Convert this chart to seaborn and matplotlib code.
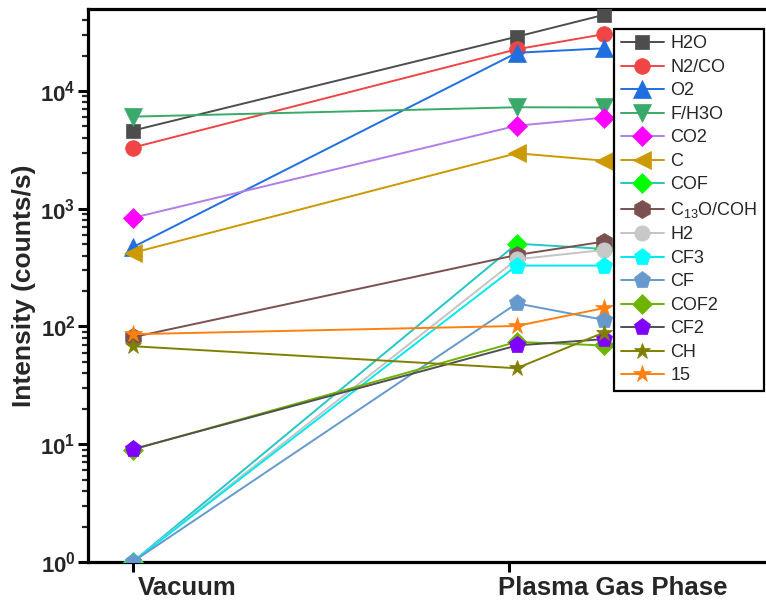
import numpy as np
import pandas as pd
import matplotlib
matplotlib.use("Agg")
import matplotlib.pyplot as plt
import matplotlib.transforms as mtransforms
from matplotlib.lines import Line2D
from matplotlib.ticker import FixedLocator, LogLocator, NullFormatter, FixedFormatter
import seaborn as sns

# ---------------- data ----------------
conditions = ["Vacuum", "Plasma Gas Phase"]
condition_x = [0.0, 1.0]
sample_x = [0.0, 1.02, 1.25]

species = ["H2O", "N2/CO", "O2", "F/H3O", "CO2", "C", "COF", "C$_{13}$O/COH",
           "H2", "CF3", "CF", "COF2", "CF2", "CH", "15"]

H2O = [4600, 28900, 44200]
N2_CO = [3300, 22600, 30300]
O2 = [470, 21100, 23000]
F_H3O = [6050, 7270, 7250]
CO2 = [835, 5070, 5930]
C = [421, 2960, 2560]
COF = [1.0, 505, 456]
C13O_COH = [81, 405, 525]
H2 = [1.0, 372, 446]
CF3 = [1.0, 329, 329]
CF = [1.0, 157, 114]
COF2 = [9.0, 74, 69]
CF2 = [9.06, 69, 78]
CH = [68, 44.2, 88.6]
M15 = [86, 101, 143]

series_values = [H2O, N2_CO, O2, F_H3O, CO2, C, COF, C13O_COH,
                 H2, CF3, CF, COF2, CF2, CH, M15]

# ---------------- styles ----------------
line_colors = ["#4d4d4d", "#f04545", "#1f6fe0", "#3aaa6a", "#b07ee8", "#cc9900",
               "#26c6c6", "#7a5050", "#c4c4c4", "#00e8f0", "#6699cc", "#6eb400",
               "#505050", "#808000", "#ff8010"]
face_colors = ["#4d4d4d", "#f04545", "#1f6fe0", "#3aaa6a", "#ff00ff", "#cc9900",
               "#00ff00", "#7a5050", "#c8c8c8", "#00ffff", "#6699cc", "#6eb400",
               "#8000ff", "#808000", "#ff8010"]
markers = ["s", "o", "^", "v", "D", "<", "D", "h", "o", "p", "p", "D", "p", "*", "*"]
msizes = [9.8, 11.3, 13.5, 13.5, 10.0, 13.5, 10.0, 13.0, 11.0, 12.8, 12.8, 10.0, 12.8, 12.0, 13.0]

rows = []
for name, vals in zip(species, series_values):
    for xv, v in zip(sample_x, vals):
        rows.append({"species": name, "x": xv, "y": v})
df = pd.DataFrame(rows)

# ---------------- figure ----------------
sns.set_style("ticks")
plt.rcParams["font.family"] = ["Liberation Sans", "DejaVu Sans"]
plt.rcParams["mathtext.fontset"] = "custom"
plt.rcParams["mathtext.rm"] = "Liberation Sans"
plt.rcParams["mathtext.bf"] = "Liberation Sans:bold"
plt.rcParams["mathtext.it"] = "Liberation Sans:italic"

fig = plt.figure(figsize=(7.66, 6.04), dpi=100)
ax_left_px, ax_right_px, ax_top_px, ax_bot_px = 88, 800, 9, 562
W, H = 766, 604
ax = fig.add_axes([ax_left_px / W, 1 - ax_bot_px / H,
                   (ax_right_px - ax_left_px) / W, (ax_bot_px - ax_top_px) / H])

handles = []
for i, name in enumerate(species):
    sub = df[df["species"] == name]
    sns.lineplot(data=sub, x="x", y="y", ax=ax, color=line_colors[i],
                 estimator=None, sort=False, legend=False,
                 marker=markers[i], markersize=msizes[i],
                 markerfacecolor=face_colors[i], markeredgecolor=face_colors[i],
                 markeredgewidth=0.5, linewidth=1.4, zorder=3 + i)
    handles.append(Line2D([], [], color=line_colors[i], marker=markers[i],
                          markersize=msizes[i], markerfacecolor=face_colors[i],
                          markeredgecolor=face_colors[i], markeredgewidth=0.5,
                          linewidth=1.4, label=name))

ax.set_yscale("log")
px_per_x = 376.8
x0_px = 132.5
ax.set_xlim((ax_left_px - x0_px) / px_per_x, (ax_right_px - x0_px) / px_per_x)
ax.set_ylim(1, 10 ** 4.696)

# y ticks
ax.yaxis.set_major_locator(FixedLocator([1, 10, 100, 1000, 10000]))
ax.yaxis.set_major_formatter(FixedFormatter([r"$\mathbf{10^{%d}}$" % k for k in range(5)]))
ax.yaxis.set_minor_locator(LogLocator(base=10, subs=np.arange(2, 10), numticks=20))
ax.yaxis.set_minor_formatter(NullFormatter())

# x ticks
ax.set_xticks(condition_x)
ax.set_xticklabels(conditions)

ax.tick_params(axis="both", which="major", direction="out", length=7, width=2.2,
               color="black", labelsize=16, pad=2)
ax.tick_params(axis="y", which="minor", direction="out", length=4, width=1.6)
ax.tick_params(axis="x", which="major", labelsize=18.5, pad=3)
for lab in ax.get_yticklabels():
    lab.set_fontweight("bold")
x_offsets_px = [5.5, -11.0]
for lab, dx in zip(ax.get_xticklabels(), x_offsets_px):
    lab.set_fontweight("bold")
    lab.set_horizontalalignment("left")
    lab.set_transform(lab.get_transform() +
                      mtransforms.ScaledTranslation(dx / 100.0, 0, fig.dpi_scale_trans))

for side in ["left", "bottom", "top"]:
    ax.spines[side].set_linewidth(2.3)
    ax.spines[side].set_color("black")
ax.spines["right"].set_visible(False)

ax.set_xlabel("")
ax.set_ylabel("Intensity (counts/s)", fontsize=19, fontweight="bold")
ax.yaxis.set_label_coords((36 - ax_left_px) / (ax_right_px - ax_left_px), 0.5)

leg = fig.legend(handles=handles, loc="upper right",
                 bbox_to_anchor=(764 / W, 1 - 29 / H),
                 bbox_transform=fig.transFigure,
                 fontsize=13, frameon=True, fancybox=False, framealpha=1,
                 edgecolor="black", borderpad=0.35, labelspacing=0.36,
                 handlelength=2.4, handletextpad=0.35, borderaxespad=0,
                 numpoints=1)
leg.get_frame().set_linewidth(1.6)

fig.savefig("out.png", dpi=100)
